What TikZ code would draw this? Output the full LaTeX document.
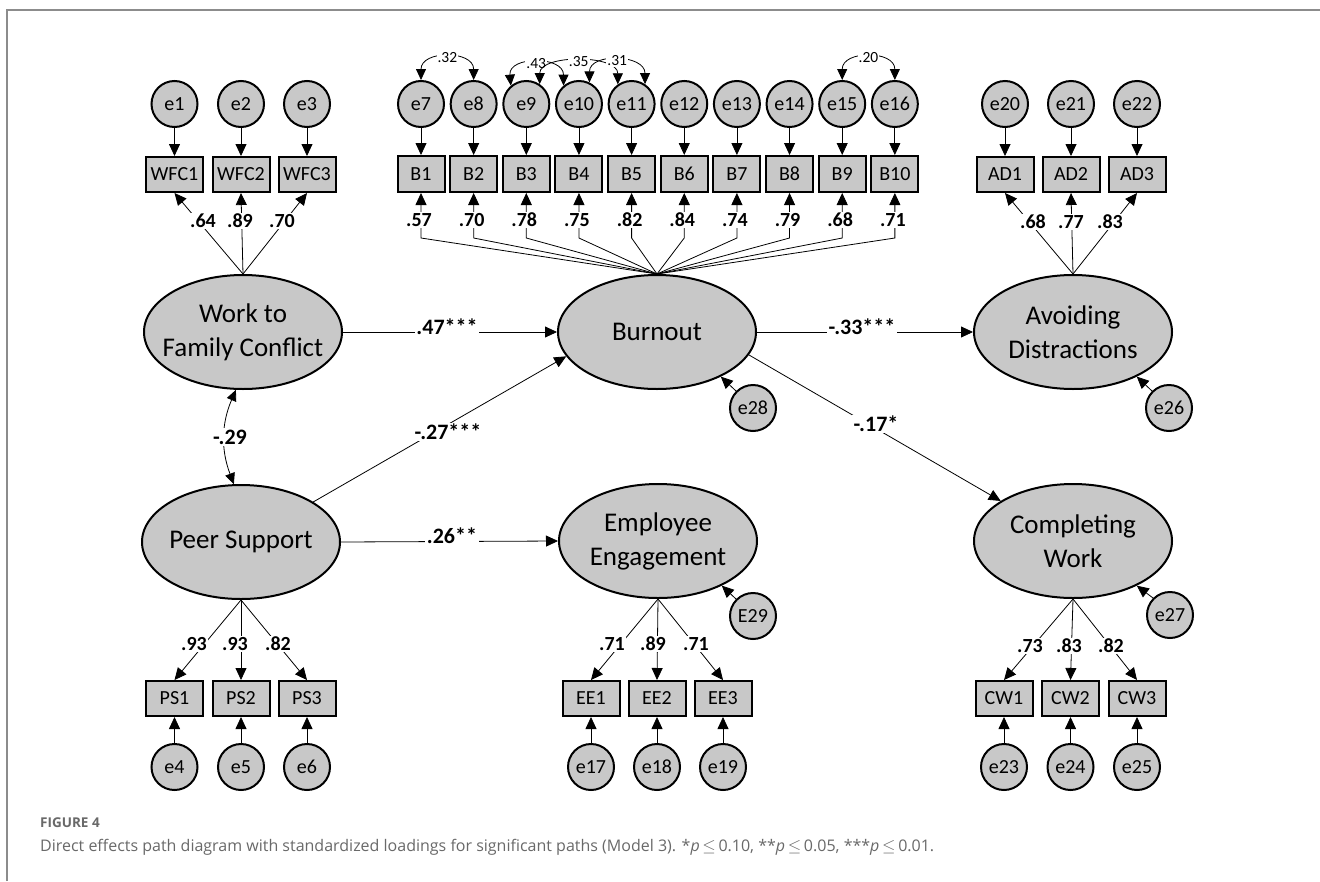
\documentclass[tikz,border=0pt]{standalone}
\usepackage{fontspec}
\setmainfont{Carlito}
\newfontfamily\capfont{Open Sans}
\usetikzlibrary{shapes.geometric,arrows.meta}
\definecolor{latgray}{RGB}{200,200,200}
\definecolor{framegray}{RGB}{140,140,140}
\definecolor{capgray}{RGB}{105,105,105}

\begin{document}
\begin{tikzpicture}[x=1pt,y=1pt,
  lat/.style={ellipse,draw,line width=2pt,fill=latgray,minimum width=198pt,minimum height=114pt,inner sep=0pt},
  lattext/.style={align=center,inner sep=0pt,font=\fontsize{27}{34}\selectfont},
  obs/.style={rectangle,draw,line width=2pt,fill=latgray,minimum width=57pt,minimum height=35pt,inner sep=0pt,font=\fontsize{20}{24}\selectfont},
  obsb/.style={obs,minimum width=47pt,minimum height=36pt},
  err/.style={circle,draw,line width=2pt,fill=latgray,minimum size=46pt,inner sep=0pt,font=\fontsize{20}{24}\selectfont},
  arr/.style={-{Triangle[length=12pt,width=11pt]},line width=0.8pt},
  cv/.style={{Triangle[length=11pt,width=10pt]}-{Triangle[length=11pt,width=10pt]},line width=0.8pt},
  covl/.style={fill=white,inner sep=1pt,font=\fontsize{15.5}{18}\selectfont},
  ld/.style={fill=white,inner sep=1pt,font=\bfseries\fontsize{20}{24}\selectfont},
  pl/.style={fill=white,inner sep=1.5pt,font=\bfseries\fontsize{22}{26}\selectfont}
]
\useasboundingbox (0,0) rectangle (1320,-881);
\fill[white] (0,0) rectangle (1320,-881);
% page frame
\draw[framegray,line width=1.5pt] (7,-881) -- (7,-10) -- (1320,-10);

% ---------- latent variables ----------
\node[lat] (wfc)  at (243,-332) {};
\node[lat] (burn) at (657,-332) {};
\node[lat] (ad)   at (1073,-332) {};
\node[lat] (ps)   at (241,-542) {};
\node[lat] (ee)   at (658,-541) {};
\node[lat] (cw)   at (1073,-541) {};
\node[lattext] (wfcT)  at (wfc)  {Work to\\Family Conflict};
\node[lattext] (burnT) at (burn) {Burnout};
\node[lattext] (adT)   at (ad)   {Avoiding\\Distractions};
\node[lattext] (psT)   at (ps)   {Peer Support};
\node[lattext] (eeT)   at (ee)   {Employee\\Engagement};
\node[lattext] (cwT)   at (cw)   {Completing\\Work};

% ---------- upper indicators ----------
\node[obs] (wfc1) at (174.5,-174.5) {WFC1};
\node[obs] (wfc2) at (241,-174.5) {WFC2};
\node[obs] (wfc3) at (307,-174.5) {WFC3};
\node[err] (e1) at (174.5,-104) {e1};
\node[err] (e2) at (241,-104) {e2};
\node[err] (e3) at (307,-104) {e3};

\foreach \i [evaluate=\i as \xx using {421+52.65*(\i-1)}, evaluate=\i as \ee using int(\i+6)] in {1,...,10}{
  \node[obsb] (b\i) at (\xx,-174) {B\i};
  \node[err] (e\ee) at (\xx,-104) {e\ee};
}

\node[obs] (ad1) at (1005,-174.5) {AD1};
\node[obs] (ad2) at (1071,-174.5) {AD2};
\node[obs] (ad3) at (1137,-174.5) {AD3};
\node[err] (e20) at (1005,-104) {e20};
\node[err] (e21) at (1071,-104) {e21};
\node[err] (e22) at (1137,-104) {e22};

% ---------- lower indicators ----------
\node[obs] (ps1) at (174.5,-698.5) {PS1};
\node[obs] (ps2) at (241,-698.5) {PS2};
\node[obs] (ps3) at (307,-698.5) {PS3};
\node[err] (e4) at (174.5,-767) {e4};
\node[err] (e5) at (241,-767) {e5};
\node[err] (e6) at (307,-767) {e6};

\node[obs] (ee1) at (591,-698.5) {EE1};
\node[obs] (ee2) at (657,-698.5) {EE2};
\node[obs] (ee3) at (723,-698.5) {EE3};
\node[err] (e17) at (591,-767) {e17};
\node[err] (e18) at (657,-767) {e18};
\node[err] (e19) at (723,-767) {e19};

\node[obs] (cw1) at (1004,-698.5) {CW1};
\node[obs] (cw2) at (1070.5,-698.5) {CW2};
\node[obs] (cw3) at (1137,-698.5) {CW3};
\node[err] (e23) at (1004,-767) {e23};
\node[err] (e24) at (1070.5,-767) {e24};
\node[err] (e25) at (1137,-767) {e25};

% disturbances
\node[err] (e26) at (1169,-408) {e26};
\node[err] (e27) at (1170,-615) {e27};
\node[err] (e28) at (753,-408) {e28};
\node[err] (e29) at (753,-616) {E29};

% ---------- error arrows ----------
\foreach \e/\o in {e1/wfc1,e2/wfc2,e3/wfc3,e20/ad1,e21/ad2,e22/ad3,
                   e4/ps1,e5/ps2,e6/ps3,e17/ee1,e18/ee2,e19/ee3,e23/cw1,e24/cw2,e25/cw3}
  \draw[arr] (\e) -- (\o);
\foreach \i [evaluate=\i as \ee using int(\i+6)] in {1,...,10}
  \draw[arr] (e\ee) -- (b\i);
\draw[arr] (e26.135) -- (ad.-35);
\draw[arr] (e27.135) -- (cw.-35);
\draw[arr] (e28.135) -- (burn.-35);
\draw[arr] (e29.135) -- (ee.-35);

% ---------- error covariances ----------
\draw[cv] (e7.north) to[out=90,in=90,distance=30pt] node[covl]{.32} (e8.north);
\draw[cv] (e9.130) to[out=95,in=90,distance=30pt] node[covl]{.43} (e10.130);
\draw[cv] (e9.56) to[out=90,in=90,distance=30pt] node[covl]{.35} (e11.125);
\draw[cv] (e10.64) to[out=90,in=90,distance=30pt] node[covl]{.31} (e11.56);
\draw[cv] (e15.north) to[out=90,in=90,distance=30pt] node[covl]{.20} (e16.north);

% ---------- loadings ----------
\foreach \o in {wfc1,wfc2,wfc3} \draw[arr] (wfc.north) -- (\o.south);
\foreach \o in {ad1,ad2,ad3} \draw[arr] (ad.north) -- (\o.south);
\foreach \o in {ps1,ps2,ps3} \draw[arr] (ps.south) -- (\o.north);
\foreach \o in {ee1,ee2,ee3} \draw[arr] (ee.south) -- (\o.north);
\foreach \o in {cw1,cw2,cw3} \draw[arr] (cw.south) -- (\o.north);
\foreach \i in {1,...,10}
  \draw[arr] (burn.north) -- ([yshift=-45pt]b\i.south) -- (b\i.south);

\node[ld] (l1) at (203,-221) {.64};
\node[ld] (l2) at (240,-221) {.89};
\node[ld] (l3) at (282,-221) {.70};
\foreach \i/\v in {1/.57,2/.70,3/.78,4/.75,5/.82,6/.84,7/.74,8/.79,9/.68,10/.71}
  \node[ld] (lb\i) at ([xshift=-2pt,yshift=-27pt]b\i.south) {\v};
\node[ld] (l4) at (1033,-222) {.68};
\node[ld] (l5) at (1071,-222) {.77};
\node[ld] (l6) at (1110,-222) {.83};
\node[ld] (l7) at (194,-644) {.93};
\node[ld] (l8) at (235,-644) {.93};
\node[ld] (l9) at (278,-644) {.82};
\node[ld] (l10) at (612,-644) {.71};
\node[ld] (l11) at (653,-644) {.89};
\node[ld] (l12) at (696,-644) {.71};
\node[ld] (l13) at (1030,-646) {.73};
\node[ld] (l14) at (1069,-646) {.83};
\node[ld] (l15) at (1111,-646) {.82};

% ---------- structural paths ----------
\draw[arr] (wfc.east) -- (burn.west);
\draw[arr] (burn.east) -- (ad.west);
\draw[arr] (ps.east) -- (ee.west);
\draw[arr] (ps.29) -- (burn.195);
\draw[arr] (burn.-14) -- (cw.151);
\draw[cv] (wfc.263) to[bend right=22] (ps.97);

\node[pl] (p1) at (447,-327) {.47***};
\node[pl] (p2) at (862,-327) {-.33***};
\node[pl] (p3) at (448,-432) {-.27***};
\node[pl] (p4) at (452,-536) {.26**};
\node[pl] (p5) at (876,-424) {-.17*};
\node[pl] (p6) at (230,-437) {-.29};

% ---------- caption ----------
\node[anchor=west,inner sep=0pt,text=capgray,font=\capfont\bfseries\fontsize{13.5}{16}\selectfont] (figno) at (40,-823) {FIGURE 4};
\node[anchor=west,inner sep=0pt,text=capgray,font=\capfont\fontsize{16}{19}\selectfont] (caption) at (40,-847)
  {Direct effects path diagram with standardized loadings for significant paths (Model 3). *\textit{p}\,$\leq$\,0.10, **\textit{p}\,$\leq$\,0.05, ***\textit{p}\,$\leq$\,0.01.};
\end{tikzpicture}
\end{document}
